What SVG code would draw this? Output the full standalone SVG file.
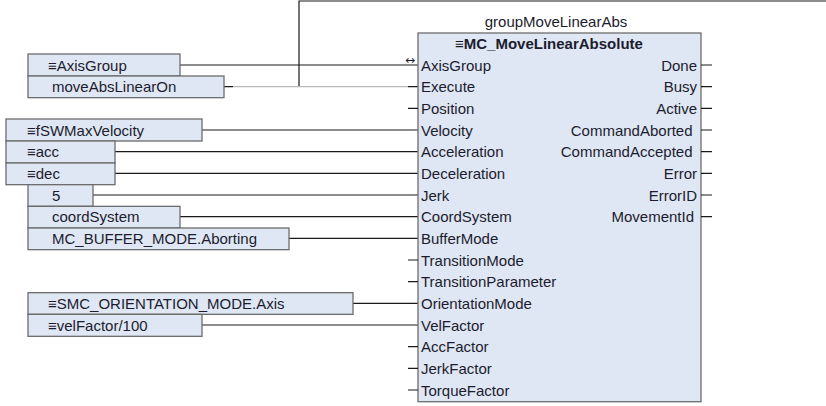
<svg xmlns="http://www.w3.org/2000/svg" width="826" height="406" viewBox="0 0 826 406">
<style>
text{font-family:"Liberation Sans","DejaVu Sans",sans-serif;font-size:15px;fill:#1c1c2e}
.box{fill:#dfe7f4;stroke:#6c6c6c;stroke-width:1.3}
.w{stroke:#1a1a1a;stroke-width:1.2;fill:none}
.g{stroke:#b8b8b8;stroke-width:1.2;fill:none}
.r{text-anchor:end}
.t{font-weight:bold}
.arr{font-family:"DejaVu Sans",sans-serif;font-size:12px}
</style>
<rect width="826" height="406" fill="#ffffff"/>
<g id="connectors">
<path class="w" d="M180 65H418"/>
<path class="w" d="M224 86.67H233M408 86.67H418M299 86.67V1H826"/>
<path class="g" d="M233 86.67H299M299 86.67H408"/>
<path class="w" d="M202 130H418"/>
<path class="w" d="M115 151.67H418"/>
<path class="w" d="M115 173.33H418"/>
<path class="w" d="M93 195H418"/>
<path class="w" d="M180 216.67H418"/>
<path class="w" d="M289 238.33H418"/>
<path class="w" d="M353 303.33H418"/>
<path class="w" d="M202 325H418"/>
</g>
<g id="in_axisgroup"><rect class="box" x="28" y="54" width="152" height="22"/><text x="48" y="70.5">≡AxisGroup</text></g>
<g id="in_execute"><rect class="box" x="28" y="76" width="196" height="21.67"/><text x="52" y="92">moveAbsLinearOn</text></g>
<g id="in_velocity"><rect class="box" x="6" y="119" width="196" height="22"/><text x="27" y="135.5">≡fSWMaxVelocity</text></g>
<g id="in_acc"><rect class="box" x="6" y="141" width="109" height="22"/><text x="27" y="157">≡acc</text></g>
<g id="in_dec"><rect class="box" x="6" y="163" width="109" height="21.67"/><text x="27" y="178.8">≡dec</text></g>
<g id="in_jerk"><rect class="box" x="28" y="184.67" width="65" height="21.67"/><text x="52" y="200.5">5</text></g>
<g id="in_coord"><rect class="box" x="28" y="206.33" width="152" height="21.67"/><text x="52" y="222">coordSystem</text></g>
<g id="in_buffer"><rect class="box" x="28" y="228" width="261" height="21.67"/><text x="52" y="243.8">MC_BUFFER_MODE.Aborting</text></g>
<g id="in_orient"><rect class="box" x="28" y="292.67" width="325" height="21.67"/><text x="48" y="308.8">≡SMC_ORIENTATION_MODE.Axis</text></g>
<g id="in_velfactor"><rect class="box" x="28" y="314.33" width="174" height="22"/><text x="48" y="330.5">≡velFactor/100</text></g>
<g id="fb_groupMoveLinearAbs">
<text x="556" y="26.5" text-anchor="middle">groupMoveLinearAbs</text>
<rect class="box" x="418" y="33" width="283" height="368.7"/>
<text class="t" x="455" y="49">≡MC_MoveLinearAbsolute</text>
<text class="arr" x="405" y="64">↔</text>
<path class="w" d="M408 108.33H418M408 260H418M408 281.67H418M408 346.67H418M408 368.33H418M408 390H418"/>
<path class="w" d="M701 65H712M701 86.67H712M701 108.33H712M701 130H712M701 151.67H712M701 173.33H712M701 195H712M701 216.67H712"/>
<text x="421" y="70.5">AxisGroup</text>
<text x="421" y="92">Execute</text>
<text x="421" y="113.7">Position</text>
<text x="421" y="135.5">Velocity</text>
<text x="421" y="157">Acceleration</text>
<text x="421" y="178.8">Deceleration</text>
<text x="421" y="200.5">Jerk</text>
<text x="421" y="222">CoordSystem</text>
<text x="421" y="243.8">BufferMode</text>
<text x="421" y="265.5">TransitionMode</text>
<text x="421" y="287">TransitionParameter</text>
<text x="421" y="308.8">OrientationMode</text>
<text x="421" y="330.5">VelFactor</text>
<text x="421" y="352">AccFactor</text>
<text x="421" y="373.8">JerkFactor</text>
<text x="421" y="395.5">TorqueFactor</text>
<text class="r" x="697" y="70.5">Done</text>
<text class="r" x="697" y="92">Busy</text>
<text class="r" x="697" y="113.7">Active</text>
<text class="r" x="692.5" y="135.5">CommandAborted</text>
<text class="r" x="692.5" y="157">CommandAccepted</text>
<text class="r" x="697" y="178.8">Error</text>
<text class="r" x="697" y="200.5">ErrorID</text>
<text class="r" x="694" y="222">MovementId</text>
</g>
</svg>
